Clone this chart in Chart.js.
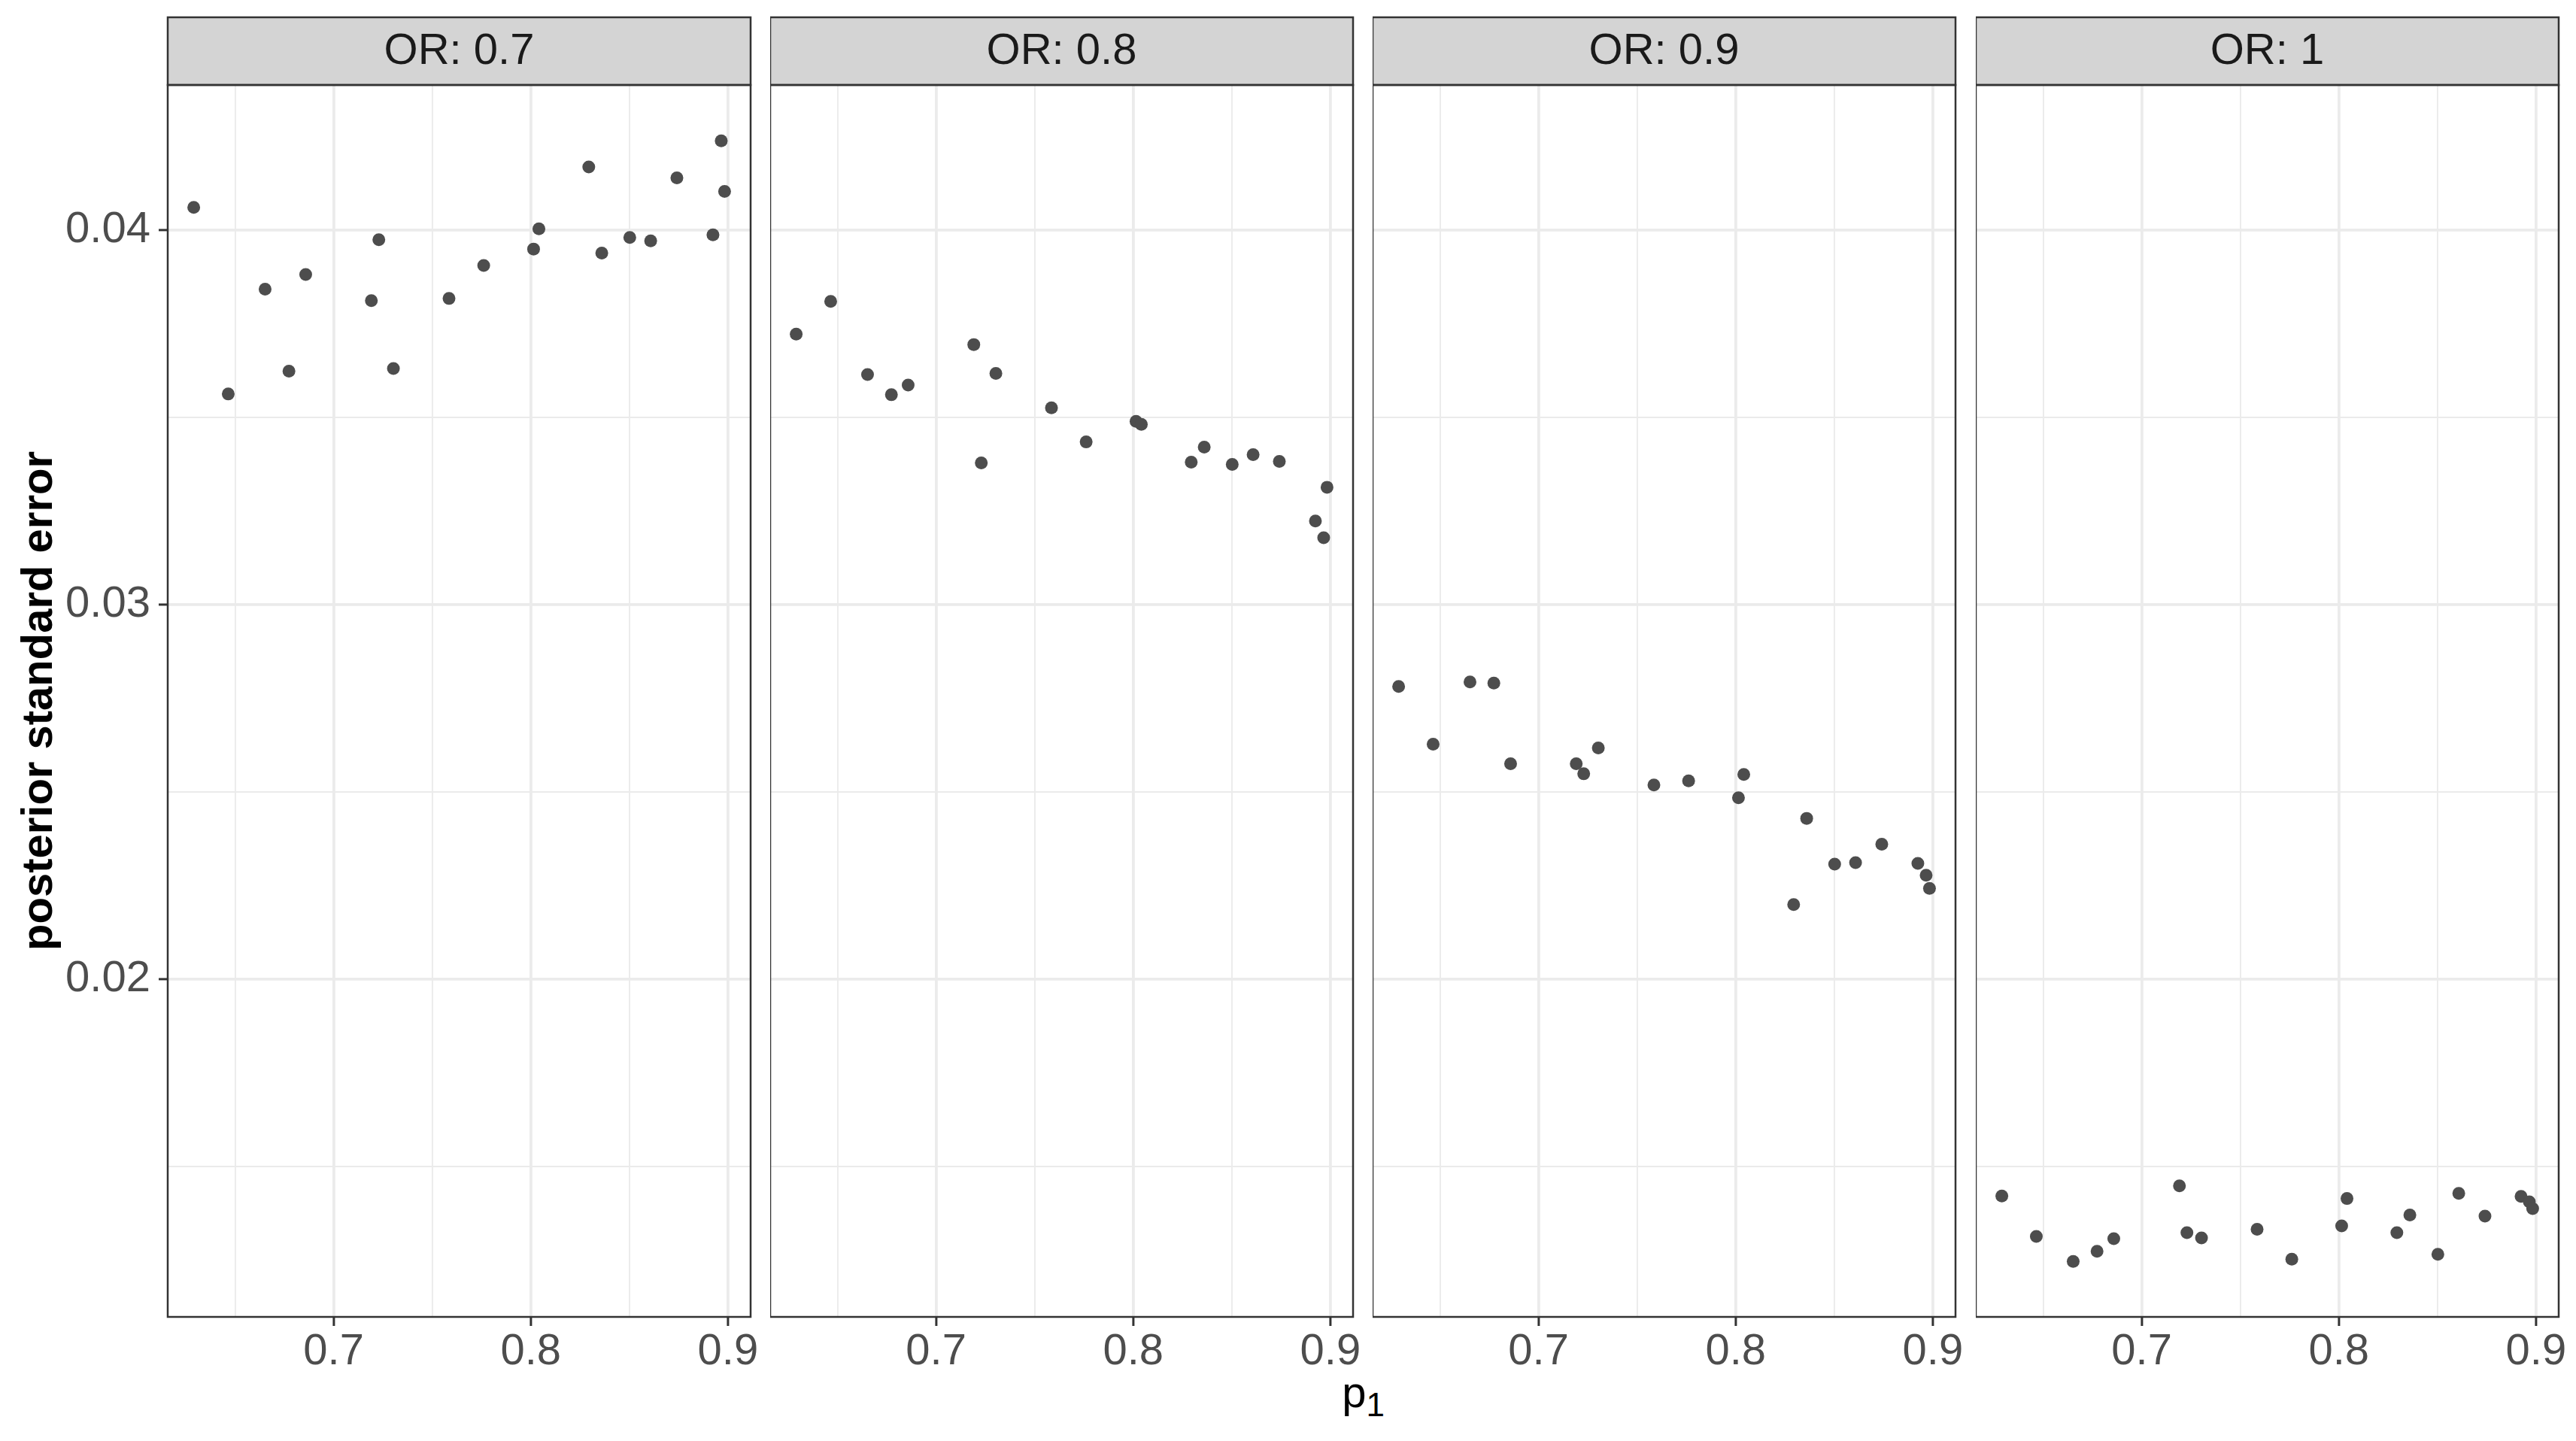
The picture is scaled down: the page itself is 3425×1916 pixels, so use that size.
<!DOCTYPE html>
<html>
<head>
<meta charset="utf-8">
<title>posterior standard error by p1</title>
<script src="https://cdn.jsdelivr.net/npm/chart.js@4.4.1/dist/chart.umd.min.js"></script>
<style>
  html, body { margin: 0; padding: 0; background: #ffffff; }
  #page { position: relative; width: 3425px; height: 1916px; overflow: hidden; background: #ffffff; }
  #page canvas { position: absolute; }
  #xtitle {
    position: absolute; left: 223px; width: 3179px; top: 1822px;
    text-align: center; font-family: "Liberation Sans", Arial, sans-serif;
    font-size: 58px; line-height: 58px; color: #000000;
  }
  #xtitle sub { font-size: 44px; vertical-align: baseline; position: relative; top: 12px; }
</style>
</head>
<body>
<div id="page">
  <div id="xtitle">p<sub>1</sub></div>
</div>
<script>
// p1 values, shared by every facet
const P1 = [0.6290, 0.6465, 0.6652, 0.6773, 0.6858, 0.7191, 0.7229, 0.7303, 0.7585, 0.7761,
            0.8014, 0.8041, 0.8294, 0.8360, 0.8502, 0.8608, 0.8741, 0.8924, 0.8966, 0.8983];

// posterior standard error per facet
const SE_OR_07 = [0.04060, 0.03562, 0.03842, 0.03623, 0.03881, 0.03811, 0.03974, 0.03630, 0.03817, 0.03905,
                  0.03949, 0.04003, 0.04168, 0.03938, 0.03980, 0.03971, 0.04139, 0.03987, 0.04238, 0.04103];
const SE_OR_08 = [0.03722, 0.03809, 0.03614, 0.03560, 0.03586, 0.03694, 0.03378, 0.03617, 0.03525, 0.03434,
                  0.03489, 0.03481, 0.03380, 0.03420, 0.03374, 0.03400, 0.03382, 0.03223, 0.03178, 0.03313];
const SE_OR_09 = [0.02781, 0.02627, 0.02793, 0.02790, 0.02575, 0.02575, 0.02548, 0.02617, 0.02518, 0.02529,
                  0.02484, 0.02546, 0.02199, 0.02429, 0.02307, 0.02311, 0.02360, 0.02309, 0.02277, 0.02242];
const SE_OR_10 = [0.01421, 0.01313, 0.01246, 0.01273, 0.01307, 0.01448, 0.01323, 0.01309, 0.01332, 0.01252,
                  0.01341, 0.01414, 0.01323, 0.01370, 0.01265, 0.01428, 0.01367, 0.01420, 0.01405, 0.01387];

const PANEL_LABELS = ["OR: 0.7", "OR: 0.8", "OR: 0.9", "OR: 1"];
const PANEL_SERIES = [SE_OR_07, SE_OR_08, SE_OR_09, SE_OR_10];

const X_MAJOR = [0.7, 0.8, 0.9];
const X_MINOR = [0.65, 0.75, 0.85];
const X_TICK_LABELS = ["0.7", "0.8", "0.9"];
const Y_MAJOR = [0.02, 0.03, 0.04];
const Y_MINOR = [0.015, 0.025, 0.035];
const Y_TICK_LABELS = ["0.02", "0.03", "0.04"];
const X_RANGE = [0.6158, 0.9115];
const Y_RANGE = [0.01098, 0.04387];

const Y_TITLE = "posterior standard error";

// layout (px)
const PANEL_LEFTS = [223, 1024, 1825, 2627];
const PANEL_WIDTH = 775;
const PANEL_TOP = 113;
const PANEL_BOTTOM = 1751;
const CANVAS_TOP = 18;
const CANVAS_HEIGHT = 1898;
const PAD_RIGHT = 30;
const STRIP_HEIGHT = 90;
const FONT = "'Liberation Sans', Arial, sans-serif";
const FRAME = "#333333";
const GRID = "#ebebeb";

Chart.defaults.font.family = FONT;

const panelFrame = {
    id: "panelFrame",
    afterDraw(chart, args, opts) {
        const { ctx, chartArea: a } = chart;
        ctx.save();
        const stripTop = a.top - STRIP_HEIGHT;
        ctx.fillStyle = "#d4d4d4";
        ctx.fillRect(a.left, stripTop, a.width, STRIP_HEIGHT);
        ctx.lineWidth = 2.5;
        ctx.strokeStyle = FRAME;
        ctx.strokeRect(a.left, stripTop, a.width, STRIP_HEIGHT);
        ctx.strokeRect(a.left, a.top, a.width, a.height);
        ctx.fillStyle = "#1a1a1a";
        ctx.font = `58px ${FONT}`;
        ctx.textAlign = "center";
        ctx.textBaseline = "middle";
        ctx.fillText(opts.label, (a.left + a.right) / 2, stripTop + STRIP_HEIGHT / 2 + 1);
        ctx.restore();
    },
};

function isMajor(list, ctx) {
    return Boolean(ctx.tick) && list.includes(ctx.tick.value);
}

function xScale() {
    return {
        type: "linear",
        min: X_RANGE[0],
        max: X_RANGE[1],
        afterBuildTicks: (scale) => {
            scale.ticks = [...X_MINOR, ...X_MAJOR].sort((a, b) => a - b).map((v) => ({ value: v }));
        },
        afterFit: (scale) => {
            // fixed axis box, no extra room for overhanging labels
            scale.height = CANVAS_TOP + CANVAS_HEIGHT - PANEL_BOTTOM;
            scale.paddingLeft = 0;
            scale.paddingRight = 0;
        },
        border: { display: false },
        grid: {
            color: GRID,
            lineWidth: (ctx) => (isMajor(X_MAJOR, ctx) ? 3.8 : 1.9),
            drawTicks: true,
            tickLength: 12,
            tickWidth: 3,
            tickColor: (ctx) => (isMajor(X_MAJOR, ctx) ? FRAME : "rgba(0,0,0,0)"),
        },
        ticks: {
            autoSkip: false,
            maxRotation: 0,
            padding: 0,
            color: "#4d4d4d",
            font: { size: 58 },
            callback: (value) => {
                const i = X_MAJOR.indexOf(value);
                return i >= 0 ? X_TICK_LABELS[i] : "";
            },
        },
    };
}

function yScale(withAxis) {
    return {
        type: "linear",
        min: Y_RANGE[0],
        max: Y_RANGE[1],
        afterBuildTicks: (scale) => {
            scale.ticks = [...Y_MINOR, ...Y_MAJOR].sort((a, b) => a - b).map((v) => ({ value: v }));
        },
        afterFit: (scale) => {
            scale.width = withAxis ? PANEL_LEFTS[0] : 0;
            scale.paddingTop = 0;
            scale.paddingBottom = 0;
        },
        border: { display: false },
        grid: {
            color: GRID,
            lineWidth: (ctx) => (isMajor(Y_MAJOR, ctx) ? 3.8 : 1.9),
            drawTicks: withAxis,
            tickLength: 12,
            tickWidth: 3,
            tickColor: (ctx) => (isMajor(Y_MAJOR, ctx) ? FRAME : "rgba(0,0,0,0)"),
        },
        ticks: {
            display: withAxis,
            autoSkip: false,
            padding: 11,
            color: "#4d4d4d",
            font: { size: 58 },
            callback: (value) => {
                const i = Y_MAJOR.indexOf(value);
                return i >= 0 ? Y_TICK_LABELS[i] : "";
            },
        },
        title: {
            display: withAxis,
            text: Y_TITLE,
            color: "#000000",
            font: { size: 58, weight: "bold" },
            padding: { top: 18, bottom: 0 },
        },
    };
}

function makePanel(index) {
    const withAxis = index === 0;
    const canvas = document.createElement("canvas");
    const left = withAxis ? 0 : PANEL_LEFTS[index];
    const width = PANEL_LEFTS[index] + PANEL_WIDTH + PAD_RIGHT - left;
    canvas.width = width;
    canvas.height = CANVAS_HEIGHT;
    canvas.style.left = `${left}px`;
    canvas.style.top = `${CANVAS_TOP}px`;
    canvas.style.width = `${width}px`;
    canvas.style.height = `${CANVAS_HEIGHT}px`;
    document.getElementById("page").appendChild(canvas);

    const values = PANEL_SERIES[index];
    return new Chart(canvas, {
        type: "scatter",
        data: {
            datasets: [{
                label: PANEL_LABELS[index],
                data: P1.map((x, i) => ({ x, y: values[i] })),
                backgroundColor: "#4d4d4d",
                borderWidth: 0,
                pointRadius: 8.5,
            }],
        },
        options: {
            responsive: false,
            animation: false,
            layout: {
                autoPadding: false,
                padding: { top: PANEL_TOP - CANVAS_TOP, right: PAD_RIGHT, left: 0, bottom: 0 },
            },
            plugins: {
                legend: { display: false },
                tooltip: { enabled: false },
                panelFrame: { label: PANEL_LABELS[index] },
            },
            scales: { x: xScale(), y: yScale(withAxis) },
        },
        plugins: [panelFrame],
    });
}

PANEL_LABELS.forEach((_, index) => makePanel(index));
</script>
</body>
</html>
